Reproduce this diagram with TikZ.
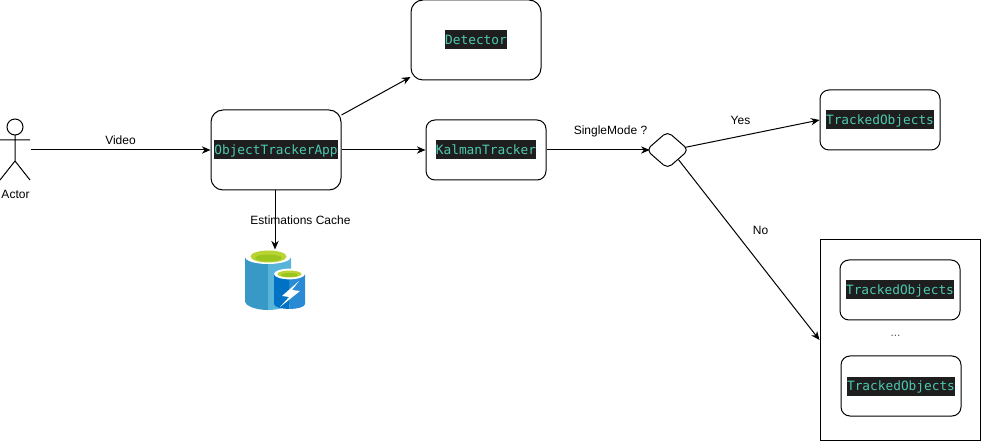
\documentclass[tikz,border=0pt]{standalone}
\usepackage{fontspec}
\setmainfont{Liberation Sans}
\setmonofont{DejaVu Sans Mono}
\usepackage{xcolor}
\usetikzlibrary{shapes.geometric, arrows.meta, positioning}

\definecolor{codebg}{HTML}{1E1E1E}
\definecolor{codefg}{HTML}{4EC9B0}
\definecolor{cacheL}{HTML}{3999C6}
\definecolor{cacheR}{HTML}{59B4D9}
\definecolor{fastL}{HTML}{0072C6}
\definecolor{fastR}{HTML}{2A8AD4}
\definecolor{limeA}{HTML}{B8D432}
\definecolor{limeB}{HTML}{9CC41E}

\setlength{\fboxsep}{0pt}
\newcommand{\codetext}[1]{\colorbox{codebg}{\rule[-4pt]{0pt}{14.25pt}\textcolor{codefg}{\fontsize{9.6pt}{11pt}\ttfamily #1}}}

\begin{document}
\begin{tikzpicture}[
    x=0.75pt, y=-0.75pt,
    line width=0.75pt,
    font=\fontsize{9pt}{11pt}\selectfont,
    % box styles
    big/.style    = {rectangle, rounded corners=9pt, draw, minimum width=97.5pt,
                     minimum height=60pt, inner sep=0pt, align=center},
    mid/.style    = {rectangle, rounded corners=6.75pt, draw, minimum width=90pt,
                     minimum height=45pt, inner sep=0pt, align=center},
    decide/.style = {diamond, rounded corners=4pt, draw, aspect=1.15, inner sep=0pt,
                     minimum width=32pt, minimum height=28pt},
    group/.style  = {rectangle, draw, minimum width=120pt, minimum height=150pt, inner sep=0pt},
    ghost/.style  = {rectangle, inner sep=0pt, minimum width=45pt, minimum height=45pt},
    label/.style  = {inner sep=0pt, align=center},
    arrow/.style  = {-{Stealth[length=6.5pt, width=5.5pt]}},
]
\useasboundingbox (0,0) rectangle (981,441);

% -- Actor ------------------------------------------------------------------
\node[rectangle, inner sep=0pt, minimum width=22.5pt, minimum height=45pt] (actor) at (15,150) {};
\draw (15,127) circle[radius=6pt];
\draw (15,135) -- (15,161) (0,140) -- (30,140) (0,180) -- (15,161) -- (30,180);
\node[label] (actorname) at (15.5,194) {Actor};

% -- Main boxes -------------------------------------------------------------
\node[big] (app) at (276,150) {\codetext{ObjectTrackerApp}};
\node[big] (detector) at (476,40) {\codetext{Detector}};
\node[mid, right=63pt of app] (kalman) {\codetext{KalmanTracker}};
\node[decide] (mode) at (667.5,150) {};
\node[mid] (single) at (880,120) {\codetext{TrackedObjects}};

% -- Group on the right -----------------------------------------------------
\node[group] (multi) at (900,340) {};
\node[mid] (multia) at (900,290) {\codetext{TrackedObjects}};
\node[mid] (multib) at (901,386) {\codetext{TrackedObjects}};
\node[label, text=gray!70!black] (dots) at (895.5,336) {...};

% -- Cache icon -------------------------------------------------------------
\node[ghost] (cache) at (275,280) {};
\fill[cacheL] (245,258) -- (245,301) .. controls (245,306) and (256,310) .. (268,310) -- (268,258) -- cycle;
\fill[cacheR] (291,258) -- (291,301) .. controls (291,306) and (280,310) .. (268,310) -- (268,258) -- cycle;
\fill[white] (268,257) ellipse[x radius=17.25pt, y radius=5.25pt];
\fill[limeA] (268.5,256.5) ellipse[x radius=13.5pt, y radius=4.5pt];
\fill[limeB] (268.5,258) ellipse[x radius=10pt, y radius=2.6pt];
\fill[fastL] (274,274) -- (274,304) .. controls (274,307) and (282,309) .. (289.5,309) -- (289.5,274) -- cycle;
\fill[fastR] (305,274) -- (305,304) .. controls (305,307) and (297,309) .. (289.5,309) -- (289.5,274) -- cycle;
\fill[white] (289.5,274) ellipse[x radius=11.6pt, y radius=4pt];
\fill[limeA] (289.5,274) ellipse[x radius=9pt, y radius=2.6pt];
\fill[limeB] (289.5,275) ellipse[x radius=6.5pt, y radius=1.5pt];
\fill[white] (299,281) -- (282,296) -- (289,297) -- (280,307) -- (300,291) -- (292,290) -- cycle;

% -- Arrows -----------------------------------------------------------------
\draw[arrow] (actor.east) -- (app.west);
\draw[arrow] ([yshift=26.25pt]app.east) -- ([yshift=-27.75pt]detector.west);
\draw[arrow] (app.east) -- (kalman.west);
\draw[arrow] (app.south -| cache.north) -- (cache.north);
\draw[arrow] (kalman.east) -- ([xshift=3pt]mode.west);
\draw[arrow] ([shift={(-3pt,2pt)}]mode.east) -- (single.west);
\draw[arrow] (mode.south east) -- (multi.west);

% -- Labels -----------------------------------------------------------------
\node[label] (video) at (120.5,140) {Video};
\node[label] (cachename) at (300.5,220) {Estimations Cache};
\node[label] (singlemode) at (610.5,131) {SingleMode ?};
\node[label] (yes) at (740.5,120) {Yes};
\node[label] (no) at (760.5,230) {No};

\end{tikzpicture}
\end{document}
